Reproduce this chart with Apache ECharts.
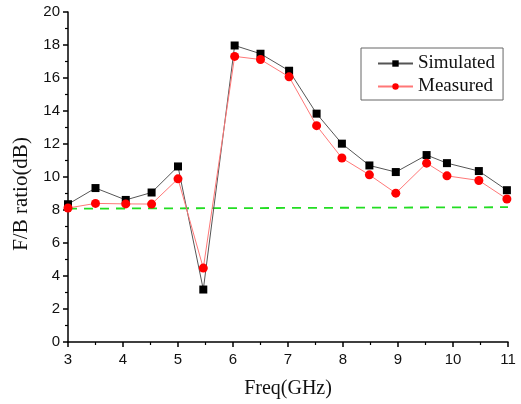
<!DOCTYPE html>
<html><head><meta charset="utf-8">
<script src="https://cdn.jsdelivr.net/npm/echarts@6/dist/echarts.min.js"></script>
<style>html,body{margin:0;padding:0;background:#fff}#c{width:521px;height:404px}</style>
</head><body><div id="c"></div>
<script>
const freqSim = [3, 3.5, 4.05, 4.52, 5, 5.46, 6.03, 6.5, 7.02, 7.52, 7.98, 8.48, 8.96, 9.52, 9.89, 10.47, 10.98];
const simulated = [8.35, 9.33, 8.61, 9.06, 10.64, 3.18, 17.97, 17.47, 16.44, 13.84, 12.02, 10.7, 10.3, 11.33, 10.84, 10.36, 9.2];
const freqMeas = [3, 3.5, 4.05, 4.52, 5, 5.46, 6.03, 6.5, 7.02, 7.52, 7.98, 8.48, 8.96, 9.52, 9.89, 10.47, 10.98];
const measured = [8.12, 8.4, 8.37, 8.36, 9.89, 4.48, 17.31, 17.12, 16.07, 13.11, 11.15, 10.13, 9.02, 10.84, 10.07, 9.79, 8.67];
const refFreq = [3, 11];
const refLevel = [8.08, 8.17];
const xTicks = {min: 3, max: 11, step: 1};
const yTicks = {min: 0, max: 20, step: 2};

const chart = echarts.init(document.getElementById('c'));
const pairs = (xs, ys) => xs.map((x, i) => [x, ys[i]]);
const serif = 'Liberation Serif';
const sans = 'Liberation Sans';
chart.setOption({
  animation: false,
  grid: {left: 68, right: 13, top: 12, bottom: 62, containLabel: false},
  legend: {
    data: ['Simulated', 'Measured'],
    orient: 'vertical',
    left: 361, top: 48,
    padding: [6, 8, 4, 16],
    itemGap: 4,
    itemWidth: 35, itemHeight: 8,
    borderColor: '#666', borderWidth: 1,
    textStyle: {fontFamily: serif, fontSize: 19, color: '#111', lineHeight: 19}
  },
  xAxis: {
    type: 'value', min: xTicks.min, max: xTicks.max, interval: xTicks.step,
    name: 'Freq(GHz)', nameLocation: 'middle', nameGap: 37,
    nameTextStyle: {fontFamily: serif, fontSize: 20, color: '#111'},
    axisLine: {lineStyle: {color: '#000', width: 1.5}},
    axisTick: {show: true, inside: false, length: 5, lineStyle: {color: '#000', width: 1.5}},
    minorTick: {show: true, splitNumber: 2, length: 3, lineStyle: {color: '#000', width: 1.2}},
    axisLabel: {fontFamily: sans, fontSize: 15, color: '#111', margin: 10},
    splitLine: {show: false}
  },
  yAxis: {
    type: 'value', min: yTicks.min, max: yTicks.max, interval: yTicks.step,
    name: 'F/B ratio(dB)', nameLocation: 'middle', nameGap: 35,
    nameTextStyle: {fontFamily: serif, fontSize: 21, color: '#111', padding: [0, 34, 0, 0]},
    axisLine: {show: true, lineStyle: {color: '#000', width: 1.5}},
    axisTick: {show: true, inside: false, length: 5, lineStyle: {color: '#000', width: 1.5}},
    minorTick: {show: true, splitNumber: 2, length: 3, lineStyle: {color: '#000', width: 1.2}},
    axisLabel: {fontFamily: sans, fontSize: 15, color: '#111', margin: 8},
    splitLine: {show: false}
  },
  series: [
    {
      name: 'Simulated', type: 'line', data: pairs(freqSim, simulated),
      symbol: 'rect', symbolSize: 8,
      itemStyle: {color: '#000'},
      lineStyle: {color: '#555', width: 1},
      z: 3
    },
    {
      name: 'Measured', type: 'line', data: pairs(freqMeas, measured),
      symbol: 'circle', symbolSize: 9,
      itemStyle: {color: '#ff0000'},
      lineStyle: {color: '#ff7777', width: 1},
      z: 4
    },
    {
      name: 'ref', type: 'line', data: pairs(refFreq, refLevel),
      symbol: 'none',
      lineStyle: {color: '#22dd22', width: 1.8, type: [9, 7]},
      z: 2
    }
  ]
});
</script></body></html>
